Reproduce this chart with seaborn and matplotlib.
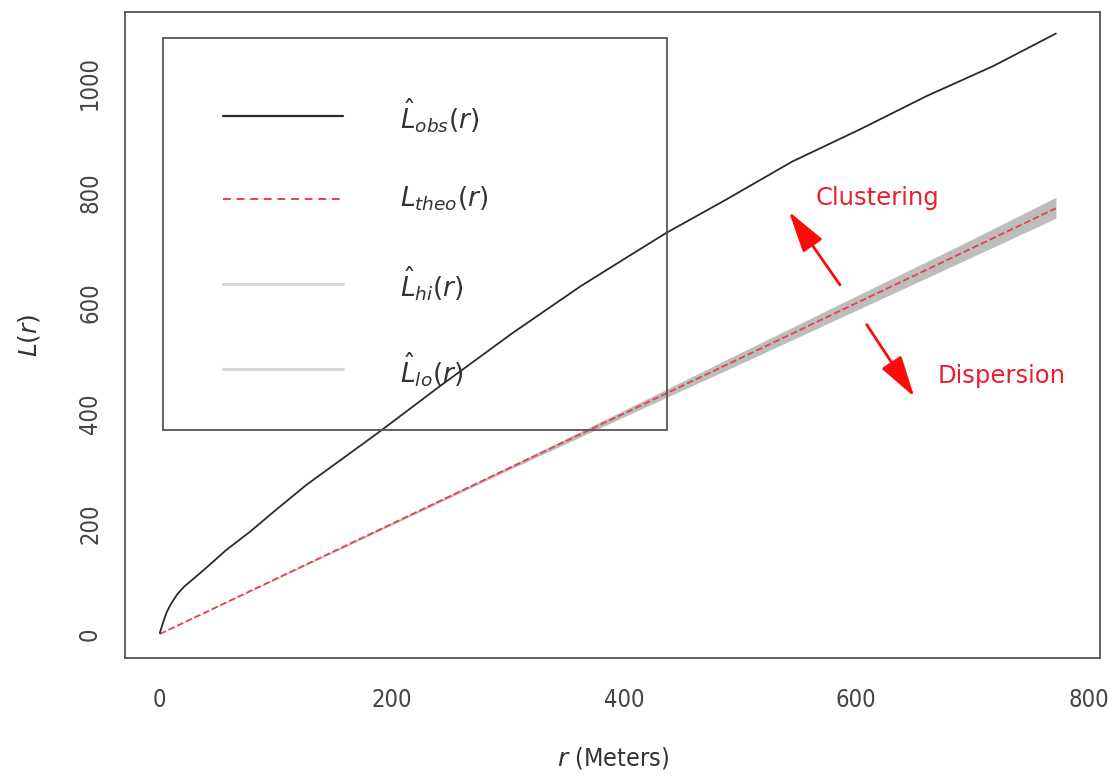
import numpy as np
import pandas as pd

import matplotlib.pyplot as plt
from matplotlib.patches import Rectangle
import seaborn as sns


obs_r = [0, 3, 6, 10, 15, 21, 30, 40, 57, 78, 100, 126, 160, 190, 241, 304, 362, 400, 436, 488, 545, 603, 660, 718, 772]
obs_L = [2, 22, 40, 56, 72, 86, 102, 120, 152, 186, 225, 270, 322, 368, 449, 546, 630, 680, 727, 788, 857, 915, 975, 1030, 1089]

# theoretical L(r) = r
theo_r = [0, 772]
theo_L = [0, 772]

# simulation envelope
env_r = [0, 100, 200, 300, 400, 500, 600, 700, 772]
env_hi = [0, 101, 202, 303, 406, 510, 613, 716, 792]
env_lo = [0, 99, 198, 297, 394, 490, 587, 684, 754]

x_ticks = [0, 200, 400, 600, 800]
y_ticks = [0, 200, 400, 600, 800, 1000]

legend_labels = [r"$\hat{L}_{obs}(r)$", r"$L_{theo}(r)$", r"$\hat{L}_{hi}(r)$", r"$\hat{L}_{lo}(r)$"]


def main():
    sns.set_style("white")
    plt.rcParams["mathtext.fontset"] = "dejavusans"
    plt.rcParams["font.family"] = ["DejaVu Sans"]

    fig = plt.figure(figsize=(11.08, 7.76), dpi=100)
    ax = fig.add_axes([0.1128, 0.152, 0.88, 0.8325])

    obs = pd.DataFrame({"r": obs_r, "L": obs_L})
    theo = pd.DataFrame({"r": theo_r, "L": theo_L})

    ax.fill_between(env_r, env_lo, env_hi, color="#bdbdbd", lw=0, zorder=1)
    sns.lineplot(data=obs, x="r", y="L", ax=ax, color="#2b2b2b", lw=1.3, zorder=3)
    sns.lineplot(data=theo, x="r", y="L", ax=ax, color="#e8404a", lw=1.3,
                 linestyle="--", dashes=(3, 2.5), zorder=2)

    ax.set_xlim(-30, 810)
    ax.set_ylim(-43.6, 1128)
    ax.set_xticks(x_ticks)
    ax.set_yticks(y_ticks)

    tick_font = dict(family=["DejaVu Sans"], stretch="condensed", size=17, color="#444444")
    ax.set_xticklabels([str(v) for v in x_ticks], **tick_font)
    ax.set_yticklabels([str(v) for v in y_ticks], rotation=90, va="center", **tick_font)
    ax.tick_params(axis="both", direction="out", length=9.5, width=1.2, color="#555555")
    ax.tick_params(axis="x", pad=12)
    ax.tick_params(axis="y", pad=7)
    for s in ax.spines.values():
        s.set_color("#555555")
        s.set_linewidth(1.3)

    ax.set_xlabel(r"$r$ (Meters)", fontsize=18, color="#333333", labelpad=24,
                  family=["DejaVu Sans"], stretch="condensed")
    ax.set_ylabel(r"$L(r)$", fontsize=18, color="#333333", labelpad=26)

    # legend box drawn in axes coordinates
    ax.add_patch(Rectangle((0.039, 0.353), 0.517, 0.6068, transform=ax.transAxes,
                           fill=False, edgecolor="#555555", lw=1.3, zorder=4))
    row_y = [0.839, 0.7105, 0.579, 0.447]
    styles = [
        dict(color="#2b2b2b", lw=1.6, ls="-"),
        dict(color="#e8404a", lw=1.4, ls=(0, (4, 3))),
        dict(color="#d6d6d6", lw=2.2, ls="-"),
        dict(color="#d6d6d6", lw=2.2, ls="-"),
    ]
    for yy, st, lab in zip(row_y, styles, legend_labels):
        ax.plot([0.1005, 0.2236], [yy, yy], transform=ax.transAxes, zorder=5, **st)
        ax.text(0.282, yy, lab, transform=ax.transAxes, fontsize=19, color="#333333",
                va="center", ha="left", zorder=5)

    # clustering / dispersion hints
    arrow = dict(arrowstyle="-|>,head_length=0.85,head_width=0.24", mutation_scale=30,
                 color="#ff0a0a", lw=2, shrinkA=0, shrinkB=0)
    ax.annotate("", xy=(542, 766), xytext=(586, 633), arrowprops=arrow, zorder=6)
    ax.annotate("", xy=(650, 430), xytext=(609, 561), arrowprops=arrow, zorder=6)
    ax.text(618, 791, "Clustering", color="#e8202e", fontsize=17.5, ha="center", va="center")
    ax.text(725, 468, "Dispersion", color="#e8202e", fontsize=17.5, ha="center", va="center")

    fig.savefig("out.png", dpi=100)


if __name__ == '__main__':
    main()
